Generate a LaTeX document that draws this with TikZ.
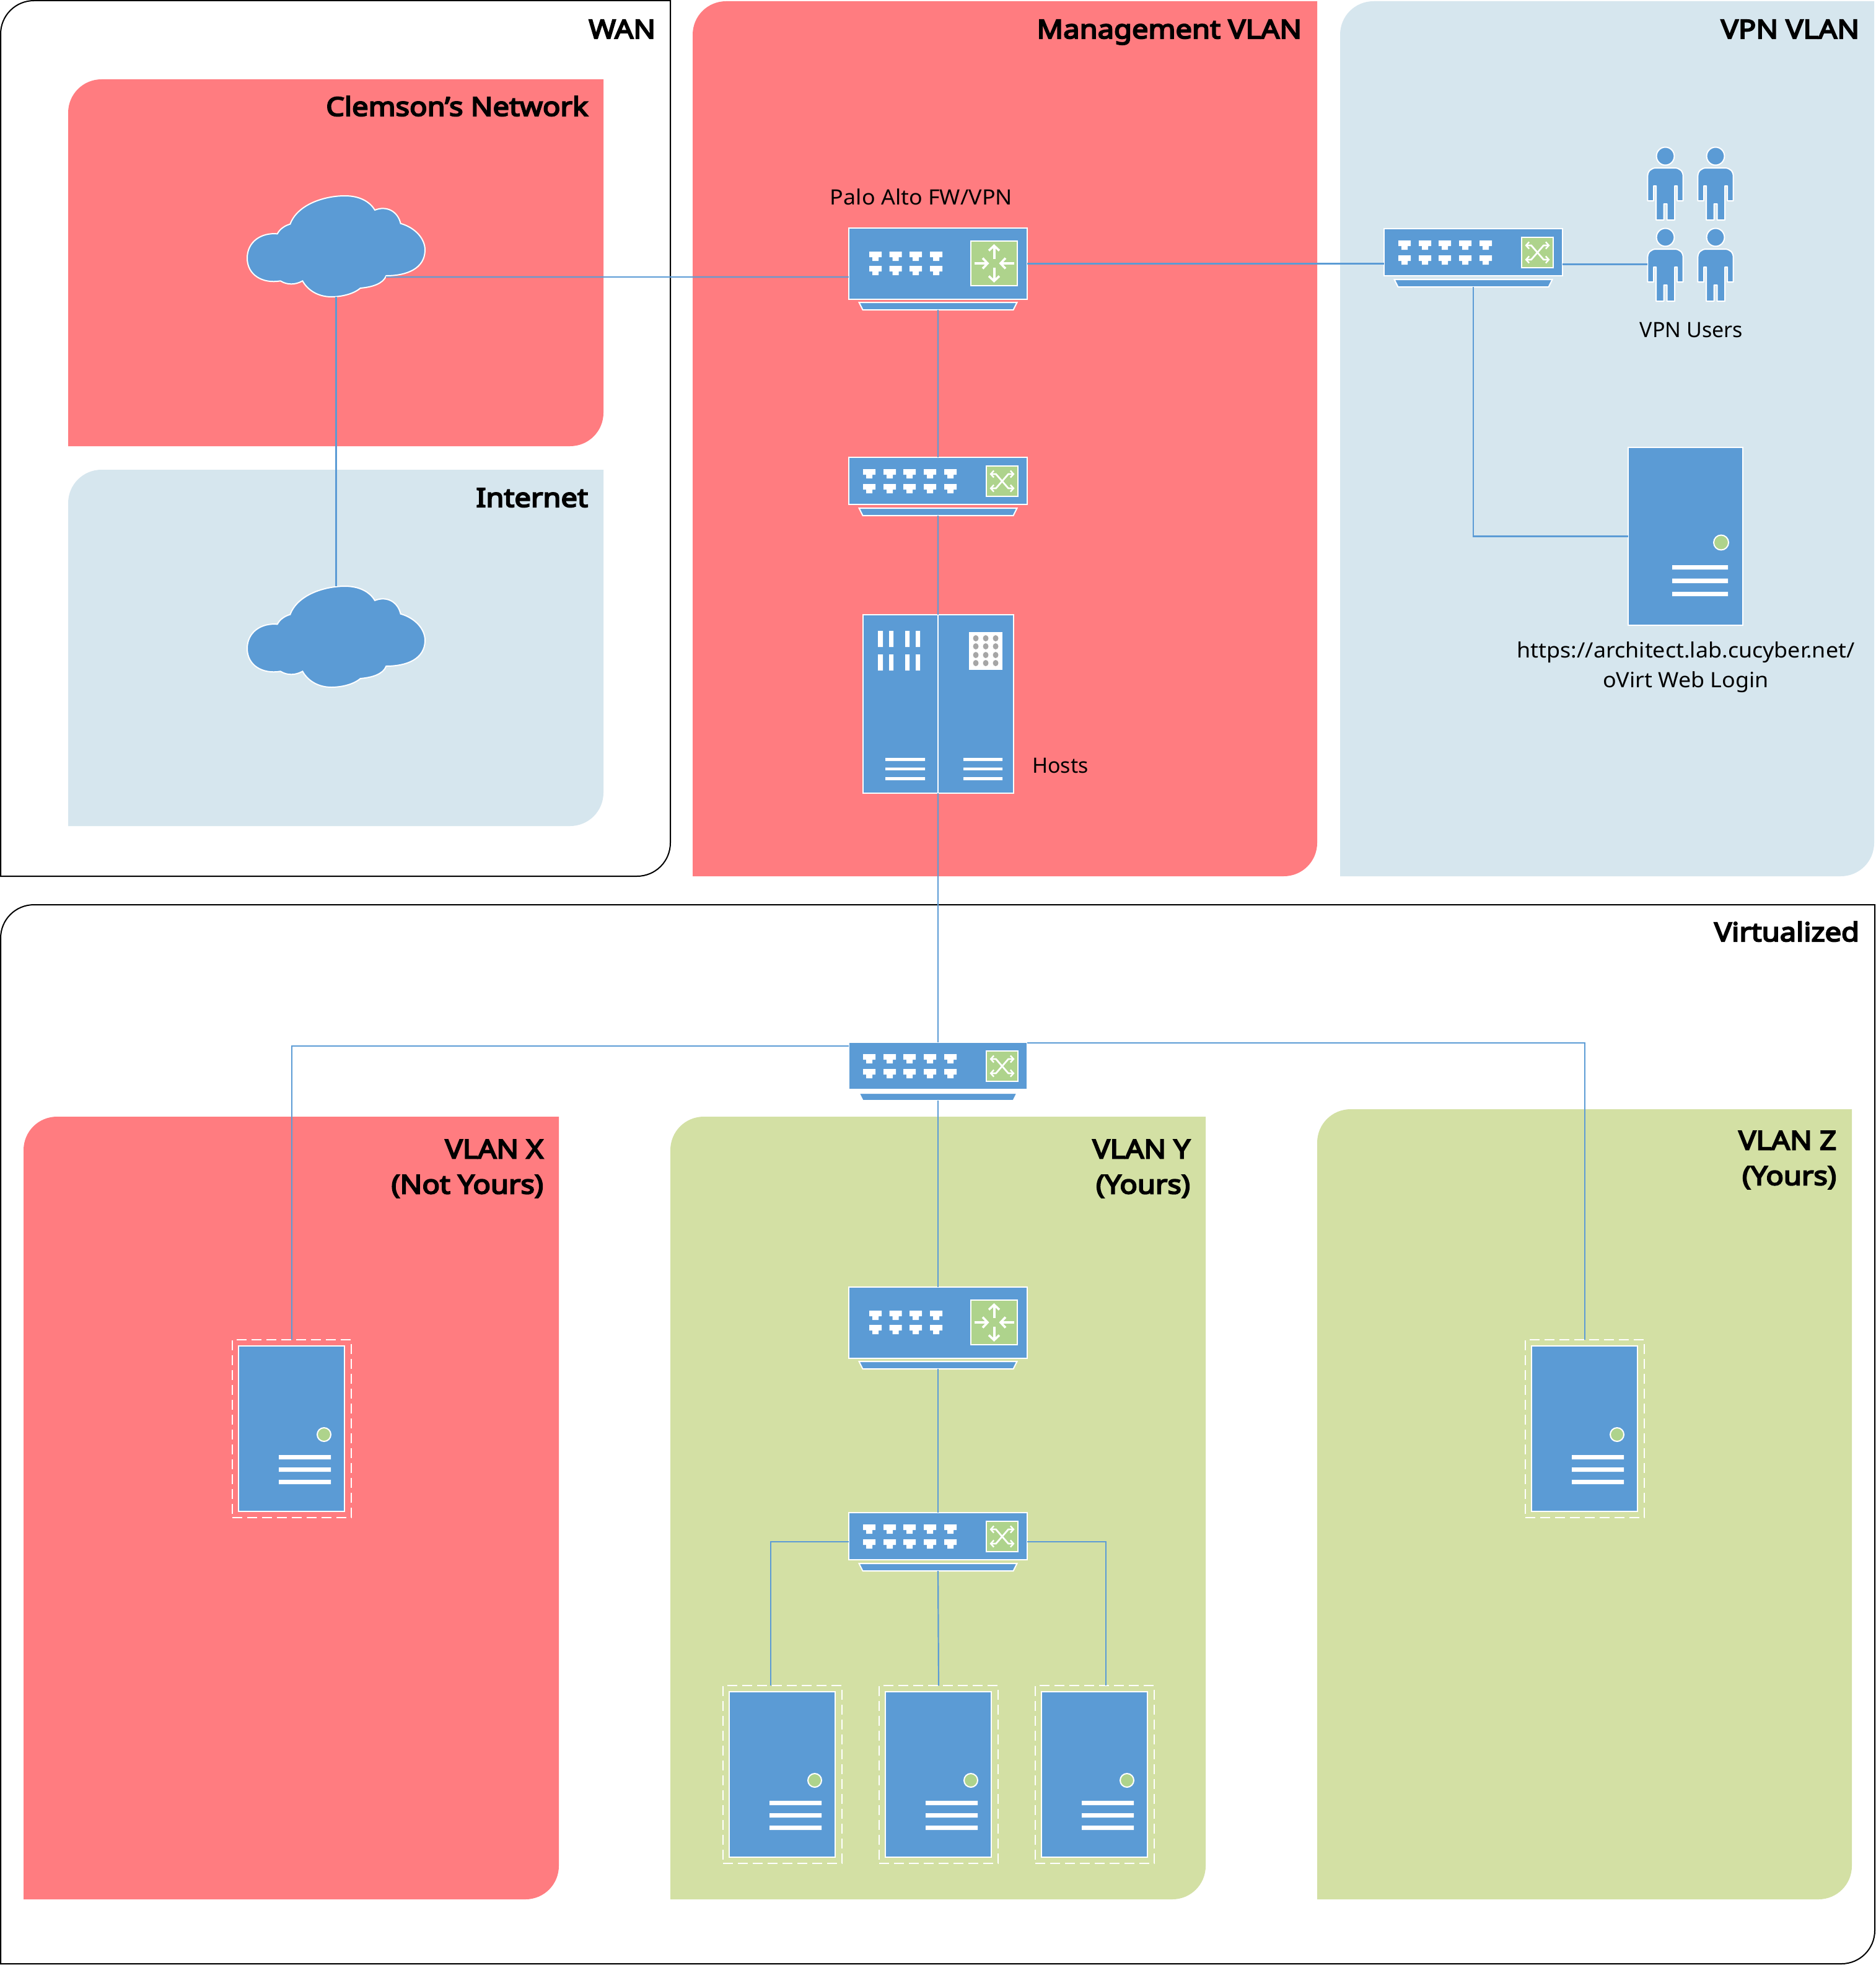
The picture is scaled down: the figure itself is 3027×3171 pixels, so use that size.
\documentclass[tikz,border=0pt]{standalone}
\usepackage{fontspec}
\setmainfont{Noto Sans}
\newfontfamily\headfont[FakeBold=5,FakeStretch=1.12]{Noto Sans}
\newfontfamily\widefont[FakeStretch=1.055]{Noto Sans}
\usetikzlibrary{arrows.meta,calc}
\definecolor{regred}{HTML}{FF7C80}
\definecolor{reglight}{HTML}{D6E6EE}
\definecolor{reggreen}{HTML}{D3E0A4}
\definecolor{devblue}{HTML}{5B9BD5}
\definecolor{icongreen}{HTML}{AED38C}
\definecolor{dotgrey}{HTML}{A6A6A6}
\tikzset{
  devbox/.style={draw=white,fill=devblue,line width=2pt,inner sep=0pt,outer sep=0pt,anchor=north west},
  devshape/.style={draw=white,fill=devblue,line width=2pt},
  greenbox/.style={draw=white,fill=icongreen,line width=2pt},
  ghost/.style={inner sep=0pt,outer sep=0pt},
  link/.style={draw=devblue,line width=2.2pt},
  dashbox/.style={draw=white,line width=2pt,dash pattern=on 16pt off 8pt,inner sep=0pt,outer sep=0pt,anchor=north west},
  headtext/.style={font=\fontsize{42}{57}\selectfont\headfont,inner sep=0pt,outer sep=0pt},
  bodytext/.style={font=\fontsize{34}{48}\selectfont,inner sep=0pt,outer sep=0pt},
  widetext/.style={font=\fontsize{34}{48}\selectfont\widefont,inner sep=0pt,outer sep=0pt},
}
% port icon with its top-left corner at (#1,#2)
\newcommand{\portIcon}[2]{\fill[white] (#1,#2) -- ++(20,0) -- ++(0,9) -- ++(-5,0) -- ++(0,6) -- ++(-10,0) -- ++(0,-6) -- ++(-5,0) -- cycle;}
% base trapezoid below a device
\newcommand{\devBase}[2]{%
  \node[ghost,minimum width=255pt,minimum height=12pt,anchor=north] (#1b) at (144,#2) {};
  \draw[devshape] (#1b.north west) -- (#1b.north east) -- ([xshift=-6pt]#1b.south east) -- ([xshift=6pt]#1b.south west) -- cycle;}
% router: name, left, top
\newcommand{\routerDev}[3]{%
  \begin{scope}[shift={(#2,#3)}]
    \node[devbox,minimum width=288pt,minimum height=115pt] (#1) at (0,0) {};
    \devBase{#1}{120}
    \foreach \px in {33,65.5,98,131}{\foreach \py in {38,61}{\portIcon{\px}{\py}}}
    \draw[greenbox] (197,21) rectangle (272,93);
    \begin{scope}[shift={(234.5,57)},line width=4pt,white,-{Straight Barb[length=8pt,width=17pt,line width=3.6pt]}]
      \draw (-32,0) -- (-8,0);
      \draw (32,0) -- (8,0);
      \draw (0,-7) -- (0,-31);
      \draw (0,7) -- (0,31);
    \end{scope}
  \end{scope}}
% switch: name, left, top
\newcommand{\switchDev}[3]{%
  \begin{scope}[shift={(#2,#3)}]
    \node[devbox,minimum width=288pt,minimum height=76pt] (#1) at (0,0) {};
    \devBase{#1}{82}
    \foreach \px in {23,56,88,121,154}{\foreach \py in {19,43}{\portIcon{\px}{\py}}}
    \draw[greenbox] (222,14) rectangle (273,63);
    \begin{scope}[shift={(247.5,38.5)},line width=2.8pt,white,{Straight Barb[length=5pt,width=11pt,line width=2.4pt]}-{Straight Barb[length=5pt,width=11pt,line width=2.4pt]}]
      \draw (-20,-11.5) -- (-10,-11.5) -- (10,11.5) -- (20,11.5);
      \draw (-20,11.5) -- (-10,11.5) -- (10,-11.5) -- (20,-11.5);
    \end{scope}
  \end{scope}}
% physical server: name, left, top
\newcommand{\bigServer}[3]{%
  \begin{scope}[shift={(#2,#3)}]
    \node[devbox,minimum width=185pt,minimum height=287pt] (#1) at (0,0) {};
    \draw[greenbox] (150,153.5) circle[radius=12];
    \fill[white] (71,190) rectangle (161,197) (71,211.5) rectangle (161,219) (71,233) rectangle (161,240);
  \end{scope}}
% virtual server: name, left, top of the solid box
\newcommand{\vmServer}[3]{%
  \begin{scope}[shift={(#2,#3)}]
    \node[dashbox,minimum width=192pt,minimum height=287pt] (#1d) at (-10,-10) {};
    \node[devbox,minimum width=171pt,minimum height=267pt] (#1) at (0,0) {};
    \draw[greenbox] (138,143) circle[radius=11];
    \fill[white] (65,176) rectangle (149,183) (65,196) rectangle (149,203) (65,216) rectangle (149,223);
  \end{scope}}
% person: name, centre x, top y
\newcommand{\personDev}[3]{%
  \begin{scope}[shift={(#2,#3)}]
    \node[ghost,minimum width=57.4pt,minimum height=117pt,anchor=north] (#1) at (0,0) {};
    \draw[devshape,line join=round] (-28.7,86) -- (-28.7,47) .. controls (-28.7,38) and (-23,33) .. (-14.7,33) -- (14.7,33) .. controls (23,33) and (28.7,38) .. (28.7,47) -- (28.7,86) -- (19,86) -- (19,62) -- (15,62) -- (15,117) -- (2.5,117) -- (2.5,91) -- (-2.5,91) -- (-2.5,117) -- (-15,117) -- (-15,62) -- (-19,62) -- (-19,86) -- cycle;
    \draw[devshape] (0,14) ellipse[x radius=14.4,y radius=14.5];
  \end{scope}}
% cloud: name, top offset
\newcommand{\cloudDev}[2]{%
  \begin{scope}[shift={(380,#2)}]
    \node[ghost,minimum width=287pt,minimum height=163pt,anchor=north west] (#1) at (19,26) {};
    \begin{scope}[x=0.33333pt,y=-0.33333pt]
    \draw[devshape] (203,262) .. controls (215,238) and (240,222) .. (265,215)
      .. controls (300,120) and (430,78) .. (530,78)
      .. controls (600,78) and (650,105) .. (675,147)
      .. controls (730,125) and (785,150) .. (800,212)
      .. controls (870,232) and (918,285) .. (918,340)
      .. controls (918,430) and (830,465) .. (730,465)
      .. controls (715,505) and (660,520) .. (605,525)
      .. controls (570,555) and (510,567) .. (465,567)
      .. controls (400,567) and (350,535) .. (325,490)
      .. controls (290,510) and (250,510) .. (218,490)
      .. controls (130,505) and (57,460) .. (57,380)
      .. controls (57,300) and (125,255) .. (203,262) -- cycle;
    \end{scope}
  \end{scope}}
% region with top-left and bottom-right corners rounded: style, x1,y1,x2,y2
\newcommand{\regionBox}[5]{%
  \path[#1] (#2,#5) -- (#2,#3+54) .. controls (#2,#3+24) and (#2+24,#3) .. (#2+54,#3)
    -- (#4,#3) -- (#4,#5-54) .. controls (#4,#5-24) and (#4-24,#5) .. (#4-54,#5) -- cycle;}
\begin{document}
\begin{tikzpicture}[x=1pt,y=-1pt]
\useasboundingbox (0,0) rectangle (3027,3171);
\fill[white] (0,0) rectangle (3027,3171);
% regions
\regionBox{draw=black,fill=white,line width=2pt}{1}{1}{1082}{1414}
\regionBox{fill=regred}{1118}{2}{2126}{1414}
\regionBox{fill=reglight}{2163}{2}{3025}{1414}
\regionBox{fill=regred}{110}{128}{974}{720}
\regionBox{fill=reglight}{110}{758}{974}{1333}
\regionBox{draw=black,fill=white,line width=2pt}{1}{1460}{3026}{3169}
\regionBox{fill=regred}{38}{1802}{902}{3065}
\regionBox{fill=reggreen}{1082}{1802}{1946}{3065}
\regionBox{fill=reggreen}{2126}{1790}{2989}{3065}
% region titles
\node[headtext,anchor=base east] (tWan) at (1058,62) {WAN};
\node[headtext,anchor=base east] (tMgmt) at (2101,62) {Management VLAN};
\node[headtext,anchor=base east] (tVpn) at (3001,62) {VPN VLAN};
\node[headtext,anchor=base east] (tClem) at (949,187) {Clemson’s Network};
\node[headtext,anchor=base east] (tInet) at (949,818) {Internet};
\node[headtext,anchor=base east] (tVirt) at (3001,1519) {Virtualized};
\node[headtext,anchor=east,align=right] (tX) at (877,1886) {VLAN X\\(Not Yours)};
\node[headtext,anchor=east,align=right] (tY) at (1921,1886) {VLAN Y\\(Yours)};
\node[headtext,anchor=east,align=right] (tZ) at (2964,1872) {VLAN Z\\(Yours)};
% device labels
\node[widetext,anchor=base] (lPalo) at (1487,330) {Palo Alto FW/VPN};
\node[bodytext,anchor=base] (lUsers) at (2730,544) {VPN Users};
\node[bodytext,anchor=base west] (lHosts) at (1666,1247) {Hosts};
\node[widetext,anchor=center,align=center] (lWeb) at (2721,1077) {https://architect.lab.cucyber.net/\\oVirt Web Login};
% devices
\cloudDev{cloudA}{290}
\cloudDev{cloudB}{920}
\coordinate (cloudAport) at (623,447);
\routerDev{palo}{1370}{368}
\switchDev{swM}{1370}{738}
\node[devbox,minimum width=121pt,minimum height=288pt] (hostL) at (1393,992) {};
\node[devbox,minimum width=122pt,minimum height=288pt] (hostR) at (1514,992) {};
\fill[white] (1417,1018) rectangle (1425,1044) (1435,1018) rectangle (1442,1044) (1461,1018) rectangle (1468,1044) (1478,1018) rectangle (1485,1044)
  (1417,1056) rectangle (1425,1082) (1435,1056) rectangle (1442,1082) (1461,1056) rectangle (1468,1082) (1478,1056) rectangle (1485,1082);
\fill[white] (1429,1223) rectangle (1493,1228) (1429,1238.5) rectangle (1493,1243) (1429,1254) rectangle (1493,1259);
\fill[white] (1555,1223) rectangle (1618,1228) (1555,1238.5) rectangle (1618,1243) (1555,1254) rectangle (1618,1259);
\fill[white] (1564,1020) rectangle (1618,1081);
\foreach \dx in {1575,1591,1607}{\foreach \dy in {1030,1043,1057,1070}{\fill[dotgrey] (\dx,\dy) ellipse[x radius=4.5,y radius=5];}}
\switchDev{swP}{2234}{369}
\personDev{userA}{2688}{238}
\personDev{userB}{2769}{238}
\personDev{userC}{2688}{369}
\personDev{userD}{2769}{369}
\bigServer{web}{2628}{722}
\switchDev{swV}{1370}{1682}
\routerDev{rtY}{1370}{2077}
\switchDev{swY}{1370}{2441}
\vmServer{vmX}{385}{2172}
\vmServer{vmZ}{2472}{2172}
\vmServer{vmA}{1177}{2730}
\vmServer{vmB}{1429}{2730}
\vmServer{vmC}{1681}{2730}
% connectors
\draw[link] (cloudA.south) -- (cloudB.north);
\draw[link] (cloudAport) -- (cloudAport -| palo.west);
\draw[link] (palo.east) -- (palo.east -| swP.west);
\draw[link] (palob.south) -- (swM.north);
\draw[link] (swMb.south) -- (hostL.north east);
\draw[link] (hostL.south east) -- (swV.north);
\coordinate (userPort) at ([yshift=-19.5pt]swP.east);
\draw[link] (userPort) -- (userPort -| userC.west);
\draw[link] (swPb.south) |- (web.west);
\draw[link] ([yshift=32pt]swV.west) -| (vmXd.north);
\draw[link] ([yshift=37pt]swV.east) -| (vmZd.north);
\draw[link] (swVb.south) -- (rtY.north);
\draw[link] (rtYb.south) -- (swY.north);
\draw[link] ([yshift=-9pt]swY.west) -| ([xshift=-19pt]vmAd.north);
\draw[link] (swYb.south) -- (vmBd.north);
\draw[link] ([yshift=-9pt]swY.east) -| ([xshift=18pt]vmCd.north);
\end{tikzpicture}
\end{document}
